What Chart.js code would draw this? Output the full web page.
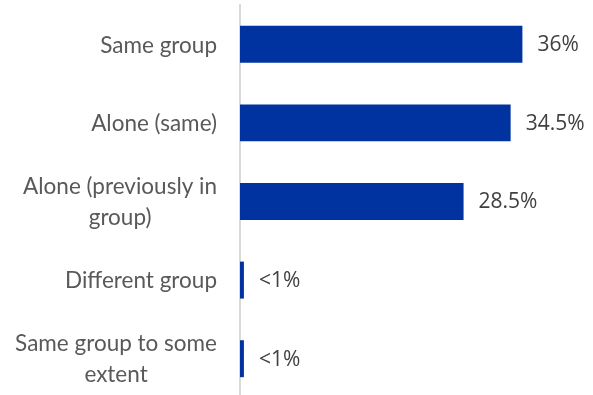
<!DOCTYPE html>
<html>
<head>
<meta charset="utf-8">
<title>Group status</title>
<script src="https://cdn.jsdelivr.net/npm/chart.js@4.4.1/dist/chart.umd.min.js"></script>
<style>
  html, body { margin: 0; padding: 0; background: #fff; overflow: hidden; }
  #wrap { width: 593px; height: 398px; position: relative; }
</style>
</head>
<body>
<div id="wrap"><canvas id="chart"></canvas></div>
<script>
// category names, one entry per line of the label
const categories = [
    ['Same group'],
    ['Alone (same)'],
    ['Alone (previously in', 'group)'],
    ['Different group'],
    ['Same group to some', 'extent']
];
const values = [36, 34.5, 28.5, 0.5, 0.5];
const valueLabels = ['36%', '34.5%', '28.5%', '<1%', '<1%'];

const barColor = '#0033a0';
const labelFont = '22.5px Lato, "Open Sans", sans-serif';
const valueFont = '21px "Open Sans", Lato, sans-serif';

// category labels: right-aligned block, wrapped lines centred inside it
const categoryLabels = {
    id: 'categoryLabels',
    afterDraw(chart) {
        const { ctx } = chart;
        const yScale = chart.scales.y;
        const right = chart.chartArea.left - 23;
        const lineHeight = 31;
        ctx.save();
        ctx.font = labelFont;
        ctx.fillStyle = '#595959';
        ctx.textBaseline = 'middle';
        ctx.textAlign = 'center';
        categories.forEach((lines, i) => {
            const cy = yScale.getPixelForTick(i);
            const w = Math.max(...lines.map(l => ctx.measureText(l).width));
            const cx = right - w / 2;
            const top = cy - (lines.length - 1) * lineHeight / 2;
            lines.forEach((line, j) => ctx.fillText(line, cx, top + j * lineHeight + 1));
        });
        ctx.restore();
    }
};

// percentage text just past the end of each bar
const valueLabelsPlugin = {
    id: 'valueLabels',
    afterDatasetsDraw(chart) {
        const { ctx } = chart;
        const meta = chart.getDatasetMeta(0);
        ctx.save();
        ctx.font = valueFont;
        ctx.fillStyle = '#404040';
        ctx.textBaseline = 'middle';
        ctx.textAlign = 'left';
        meta.data.forEach((bar, i) => {
            ctx.fillText(valueLabels[i], bar.x + 15, bar.y + 1);
        });
        ctx.restore();
    }
};

new Chart(document.getElementById('chart'), {
    type: 'bar',
    data: {
        labels: categories.map(l => l.join(' ')),
        datasets: [{
            data: values,
            backgroundColor: barColor,
            borderWidth: 0,
            categoryPercentage: 1,
            barPercentage: 0.47
        }]
    },
    options: {
        indexAxis: 'y',
        responsive: true,
        maintainAspectRatio: false,
        animation: false,
        layout: { padding: { top: 5, bottom: 0, right: 0, left: 0 } },
        plugins: {
            legend: { display: false },
            tooltip: { enabled: false }
        },
        scales: {
            x: {
                display: false,
                min: 0,
                max: 45
            },
            y: {
                grid: { display: false, drawTicks: false },
                border: { display: true, color: '#d9d9d9', width: 2 },
                ticks: { display: false },
                afterFit(scale) { scale.width = 240; }
            }
        }
    },
    plugins: [categoryLabels, valueLabelsPlugin]
});
</script>
</body>
</html>
